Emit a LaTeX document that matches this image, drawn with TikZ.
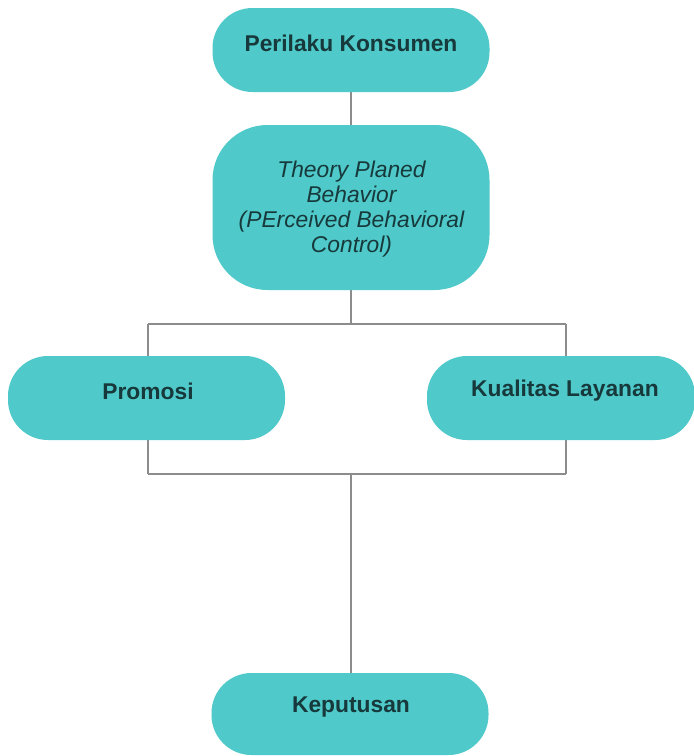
\documentclass[tikz,border=0pt]{standalone}
\usepackage{fontspec}
\setmainfont{Liberation Sans}
\usetikzlibrary{backgrounds}
\definecolor{boxfill}{HTML}{4FC9C9}
\definecolor{txtcol}{HTML}{17393B}
\definecolor{lncol}{HTML}{8C8C8C}
\begin{document}
\begin{tikzpicture}[x=1pt,y=-1pt,
  box/.style={fill=boxfill, draw=none, rounded corners=40pt, inner sep=0pt, minimum width=277pt, minimum height=84pt},
  lab/.style={text=txtcol, inner sep=0pt, font=\bfseries\fontsize{22.8}{25}\selectfont},
  ilab/.style={text=txtcol, inner sep=0pt, align=center, font=\itshape\fontsize{22.8}{25}\selectfont},
  conn/.style={draw=lncol, line width=1.5pt}]
\useasboundingbox (0,0) rectangle (694,756);
% boxes
\node[box] (pk) at (351,50) {};
\node[lab] (pkt) at (351,43) {Perilaku Konsumen};
\node[box, minimum height=165pt, rounded corners=55pt] (tp) at (351,207.5) {};
\node[ilab] (tpt) at (351.5,209.5) {Theory Planed\\Behavior\\(PErceived Behavioral\\Control)};
\node[box] (pr) at (146.5,398) {};
\node[lab] (prt) at (148,391) {Promosi};
\node[box, minimum width=268pt] (kl) at (561,398) {};
\node[lab] (klt) at (565,391) {Kualitas Layanan};
\node[box, minimum height=82pt] (kp) at (350,714) {};
\node[lab] (kpt) at (351,707) {Keputusan};
% junction points
\coordinate (tm) at (351,324);
\coordinate (tl) at (148,324);
\coordinate (tr) at (566,324);
\coordinate (bl) at (148,474);
\coordinate (br) at (566,474);
\coordinate (bm) at (351,474);
\begin{scope}[on background layer]
\fill[white] (0,0) rectangle (694,756);
\draw[conn] (pk.south) -- (tp.north);
\draw[conn] (tp.south) -- (tm);
\draw[conn] (tl) -- (tr);
\draw[conn] (tl) -- (bl);
\draw[conn] (tr) -- (br);
\draw[conn] (bl) -- (br);
\draw[conn] (bm) -- (bm |- kp.north);
\end{scope}
\end{tikzpicture}
\end{document}
